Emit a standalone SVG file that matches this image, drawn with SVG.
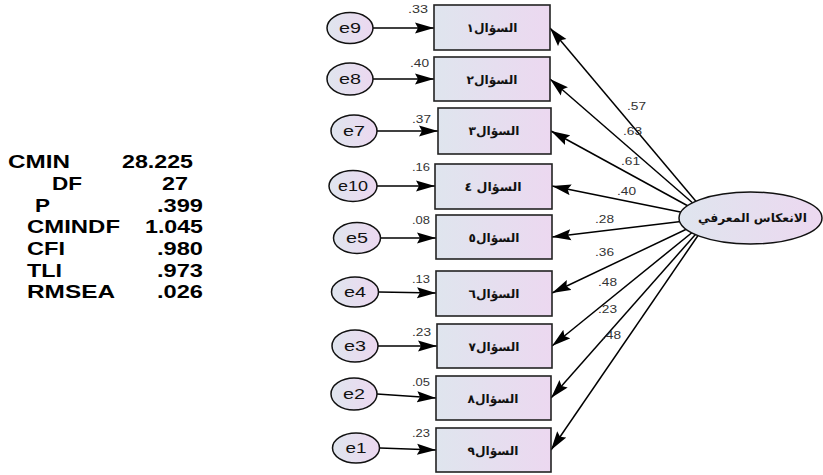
<svg xmlns="http://www.w3.org/2000/svg" width="823" height="475" viewBox="0 0 823 475">
<style>
.box{stroke:#222;stroke-width:1.6}
.err{stroke:#111;stroke-width:1.5}
.lat{stroke:#111;stroke-width:1.5}
.ar{font-family:"DejaVu Sans",sans-serif;font-weight:bold;font-size:12px;fill:#111;text-anchor:middle}
.et{font-family:"Liberation Sans",Arial,sans-serif;font-size:14px;fill:#111;text-anchor:middle}
.num{font-family:"Liberation Sans",Arial,sans-serif;font-size:11px;fill:#333}
.fit{font-family:"Liberation Sans",Arial,sans-serif;font-weight:bold;font-size:18px;fill:#000}
.conn line{stroke:#000;stroke-width:1.5;marker-end:url(#ah)}
</style>
<defs>
<linearGradient id="g" x1="0" y1="0" x2="1" y2="0">
<stop offset="0" stop-color="#dfe5ee"/>
<stop offset="1" stop-color="#ecd8f0"/>
</linearGradient>
<marker id="ah" markerUnits="userSpaceOnUse" markerWidth="19" markerHeight="12" refX="19" refY="6" orient="auto">
<path d="M0,0.5 L19,6 L0,11.5 L3,6 z" fill="#000"/>
</marker>
</defs>
<rect width="823" height="475" fill="#fff"/>

<g id="fit">
<text class="fit" x="8" y="168" textLength="62" lengthAdjust="spacingAndGlyphs">CMIN</text>
<text class="fit" x="122" y="168" textLength="71" lengthAdjust="spacingAndGlyphs">28.225</text>
<text class="fit" x="52" y="190" textLength="30" lengthAdjust="spacingAndGlyphs">DF</text>
<text class="fit" x="162" y="190" textLength="26" lengthAdjust="spacingAndGlyphs">27</text>
<text class="fit" x="35" y="212" textLength="15" lengthAdjust="spacingAndGlyphs">P</text>
<text class="fit" x="157" y="212" textLength="46" lengthAdjust="spacingAndGlyphs">.399</text>
<text class="fit" x="27" y="233" textLength="93" lengthAdjust="spacingAndGlyphs">CMINDF</text>
<text class="fit" x="145" y="233" textLength="58" lengthAdjust="spacingAndGlyphs">1.045</text>
<text class="fit" x="27" y="255" textLength="38" lengthAdjust="spacingAndGlyphs">CFI</text>
<text class="fit" x="157" y="255" textLength="46" lengthAdjust="spacingAndGlyphs">.980</text>
<text class="fit" x="27" y="277" textLength="35" lengthAdjust="spacingAndGlyphs">TLI</text>
<text class="fit" x="157" y="277" textLength="46" lengthAdjust="spacingAndGlyphs">.973</text>
<text class="fit" x="27" y="298" textLength="88" lengthAdjust="spacingAndGlyphs">RMSEA</text>
<text class="fit" x="157" y="298" textLength="46" lengthAdjust="spacingAndGlyphs">.026</text>
</g>

<g class="conn" id="connectors">
<line x1="373" y1="28" x2="434" y2="28"/>
<line x1="373" y1="79" x2="434" y2="79"/>
<line x1="377" y1="131" x2="438" y2="131"/>
<line x1="377" y1="186" x2="435" y2="186"/>
<line x1="381" y1="238" x2="436" y2="238"/>
<line x1="379" y1="292" x2="436" y2="293"/>
<line x1="378" y1="346" x2="437" y2="346"/>
<line x1="377" y1="394" x2="436" y2="398"/>
<line x1="380" y1="448" x2="436" y2="450"/>
<line x1="710" y1="218" x2="550" y2="28"/>
<line x1="710" y1="218" x2="550" y2="79"/>
<line x1="710" y1="218" x2="551" y2="131"/>
<line x1="710" y1="218" x2="552" y2="186"/>
<line x1="710" y1="218" x2="552" y2="237"/>
<line x1="710" y1="218" x2="552" y2="293"/>
<line x1="710" y1="218" x2="552" y2="346"/>
<line x1="710" y1="218" x2="551" y2="398"/>
<line x1="710" y1="218" x2="551" y2="450"/>
</g>

<g id="loadings">
<text class="num" x="627" y="110" textLength="19" lengthAdjust="spacingAndGlyphs">.57</text>
<text class="num" x="623" y="135" textLength="19" lengthAdjust="spacingAndGlyphs">.63</text>
<text class="num" x="621" y="165" textLength="19" lengthAdjust="spacingAndGlyphs">.61</text>
<text class="num" x="617" y="195" textLength="19" lengthAdjust="spacingAndGlyphs">.40</text>
<text class="num" x="595" y="223" textLength="19" lengthAdjust="spacingAndGlyphs">.28</text>
<text class="num" x="595" y="256" textLength="19" lengthAdjust="spacingAndGlyphs">.36</text>
<text class="num" x="598" y="286" textLength="19" lengthAdjust="spacingAndGlyphs">.48</text>
<text class="num" x="598" y="313" textLength="19" lengthAdjust="spacingAndGlyphs">.23</text>
<text class="num" x="602" y="339" textLength="19" lengthAdjust="spacingAndGlyphs">.48</text>
</g>

<g id="q1"><rect class="box" x="434" y="5" width="116" height="45" fill="url(#g)"/><text class="ar" x="492" y="32" textLength="51" lengthAdjust="spacingAndGlyphs">السؤال١</text><text class="num" x="408" y="13" textLength="20" lengthAdjust="spacingAndGlyphs">.33</text></g>
<g id="q2"><rect class="box" x="434" y="57" width="116" height="44" fill="url(#g)"/><text class="ar" x="492" y="84" textLength="51" lengthAdjust="spacingAndGlyphs">السؤال٢</text><text class="num" x="410" y="67" textLength="19" lengthAdjust="spacingAndGlyphs">.40</text></g>
<g id="q3"><rect class="box" x="438" y="108" width="113" height="46" fill="url(#g)"/><text class="ar" x="494" y="135" textLength="51" lengthAdjust="spacingAndGlyphs">السؤال٣</text><text class="num" x="412" y="123" textLength="19" lengthAdjust="spacingAndGlyphs">.37</text></g>
<g id="q4"><rect class="box" x="435" y="164" width="117" height="45" fill="url(#g)"/><text class="ar" x="493" y="191" textLength="57" lengthAdjust="spacingAndGlyphs">السؤال ٤</text><text class="num" x="412" y="171" textLength="18" lengthAdjust="spacingAndGlyphs">.16</text></g>
<g id="q5"><rect class="box" x="436" y="215" width="116" height="44" fill="url(#g)"/><text class="ar" x="494" y="242" textLength="51" lengthAdjust="spacingAndGlyphs">السؤال٥</text><text class="num" x="412" y="224" textLength="18" lengthAdjust="spacingAndGlyphs">.08</text></g>
<g id="q6"><rect class="box" x="436" y="271" width="116" height="45" fill="url(#g)"/><text class="ar" x="494" y="298" textLength="51" lengthAdjust="spacingAndGlyphs">السؤال٦</text><text class="num" x="412" y="283" textLength="18" lengthAdjust="spacingAndGlyphs">.13</text></g>
<g id="q7"><rect class="box" x="437" y="324" width="115" height="44" fill="url(#g)"/><text class="ar" x="494" y="351" textLength="51" lengthAdjust="spacingAndGlyphs">السؤال٧</text><text class="num" x="412" y="336" textLength="19" lengthAdjust="spacingAndGlyphs">.23</text></g>
<g id="q8"><rect class="box" x="436" y="376" width="115" height="44" fill="url(#g)"/><text class="ar" x="493" y="403" textLength="51" lengthAdjust="spacingAndGlyphs">السؤال٨</text><text class="num" x="412" y="386" textLength="18" lengthAdjust="spacingAndGlyphs">.05</text></g>
<g id="q9"><rect class="box" x="436" y="428" width="115" height="44" fill="url(#g)"/><text class="ar" x="493" y="455" textLength="51" lengthAdjust="spacingAndGlyphs">السؤال٩</text><text class="num" x="412" y="437" textLength="18" lengthAdjust="spacingAndGlyphs">.23</text></g>

<g id="e9"><ellipse class="err" cx="350" cy="28" rx="23" ry="15.5" fill="url(#g)"/><text class="et" x="350" y="33" textLength="22" lengthAdjust="spacingAndGlyphs">e9</text></g>
<g id="e8"><ellipse class="err" cx="350" cy="79" rx="23" ry="16" fill="url(#g)"/><text class="et" x="350" y="84" textLength="22" lengthAdjust="spacingAndGlyphs">e8</text></g>
<g id="e7"><ellipse class="err" cx="354" cy="131" rx="23" ry="16" fill="url(#g)"/><text class="et" x="354" y="136" textLength="22" lengthAdjust="spacingAndGlyphs">e7</text></g>
<g id="e10"><ellipse class="err" cx="353" cy="186" rx="24" ry="15.5" fill="url(#g)"/><text class="et" x="353" y="191" textLength="30" lengthAdjust="spacingAndGlyphs">e10</text></g>
<g id="e5"><ellipse class="err" cx="357" cy="238" rx="23.5" ry="15.5" fill="url(#g)"/><text class="et" x="357" y="243" textLength="22" lengthAdjust="spacingAndGlyphs">e5</text></g>
<g id="e4"><ellipse class="err" cx="355" cy="292" rx="23.5" ry="15" fill="url(#g)"/><text class="et" x="355" y="297" textLength="22" lengthAdjust="spacingAndGlyphs">e4</text></g>
<g id="e3"><ellipse class="err" cx="355" cy="346" rx="23" ry="16" fill="url(#g)"/><text class="et" x="355" y="351" textLength="22" lengthAdjust="spacingAndGlyphs">e3</text></g>
<g id="e2"><ellipse class="err" cx="354" cy="394" rx="23" ry="16" fill="url(#g)"/><text class="et" x="354" y="399" textLength="22" lengthAdjust="spacingAndGlyphs">e2</text></g>
<g id="e1"><ellipse class="err" cx="356" cy="448" rx="23.5" ry="15" fill="url(#g)"/><text class="et" x="356" y="453" textLength="21" lengthAdjust="spacingAndGlyphs">e1</text></g>

<g id="latent"><ellipse class="lat" cx="750.5" cy="218" rx="71.5" ry="26" fill="url(#g)"/><text class="ar" x="752.5" y="222" textLength="109" lengthAdjust="spacingAndGlyphs">الانعكاس المعرفي</text></g>
</svg>
